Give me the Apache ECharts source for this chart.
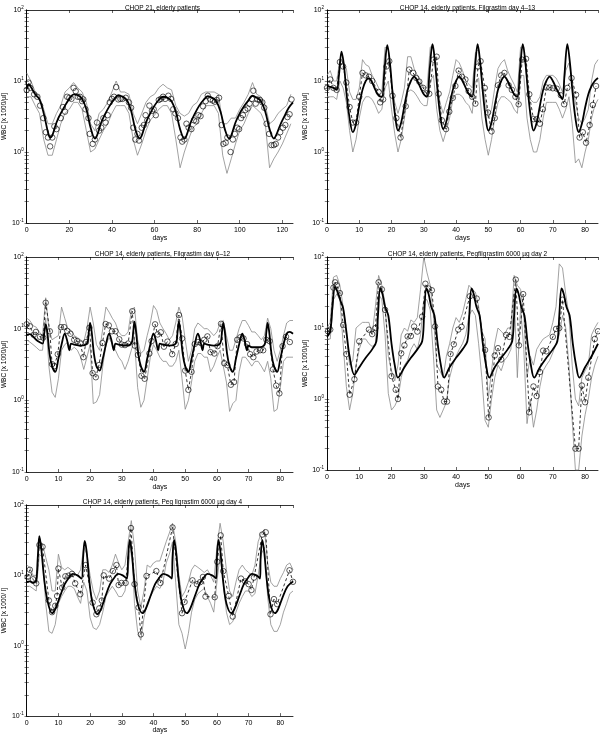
<!DOCTYPE html>
<html><head><meta charset="utf-8">
<script src="https://cdn.jsdelivr.net/npm/echarts@6/dist/echarts.min.js"></script>
<style>html,body{margin:0;padding:0;background:#fff}#c{width:600px;height:735px}</style>
</head><body><div id="c"></div>
<script>
// ---------------- Panel titles / labels ----------------
const panelTitles = [
  'CHOP 21, elderly patients',
  'CHOP 14, elderly patients, Filgrastim day 4\u201313',
  'CHOP 14, elderly patients, Filgrastim day 6\u201312',
  'CHOP 14, elderly patients, Pegfilgrastim 6000 \u00b5g day 2',
  'CHOP 14, elderly patients, Peg ligrastim 6000 \u00b5g day 4'
];
const yNames = ['WBC [x 1000/\u00b5l]','WBC [x 1000/\u00b5l]','WBC [x 1000/\u00b5l]','WBC [x 1000/\u00b5l]','WBC [x 1000/ l]'];
const xName = 'days';
const xMaxes = [125, 84, 84, 84, 84];
const xIntervals = [20, 10, 10, 10, 10];
const yMajorTicks = [0.1, 1, 10, 100];
const yMinorTicks = [0.2,0.3,0.4,0.5,0.6,0.7,0.8,0.9,2,3,4,5,6,7,8,9,20,30,40,50,60,70,80,90];

// shared day grids for quartile curves
const qDays1 = [0,2,4,6,8,10,12,14,16,18,20,22,24,26,28,30,32,34,36,38,40,42,44,46,48,50,52,54,56,58,60,62,64,66,68,70,72,74,76,78,80,82,84,86,88,90,92,94,96,98,100,102,104,106,108,110,112,114,116,118,120,122,124];
const qDays84 = [0,1,2,3,4,5,6,7,8,9,10,11,12,13,14,15,16,17,18,19,20,21,22,23,24,25,26,27,28,29,30,31,32,33,34,35,36,37,38,39,40,41,42,43,44,45,46,47,48,49,50,51,52,53,54,55,56,57,58,59,60,61,62,63,64,65,66,67,68,69,70,71,72,73,74,75,76,77,78,79,80,81,82,83,84];

// ---------------- Panel 1: CHOP 21 ----------------
const p1ModelDays = [0,1,2,4,6,8,10,11,12,14,16,18,20,22,24,26,28,30,32,33,35,37,39,41,43,45,47,49,51,53,54,56,58,60,62,64,66,68,70,72,74,75,77,79,81,83,85,87,89,91,93,95,96,98,100,102,104,106,108,110,112,114,116,117,119,121,123,125];
const p1Model = [7.8,9,8.2,6.5,5.5,3.5,1.9,1.6,1.7,2.6,3.5,4.5,5.6,6.5,6.3,5.6,4,2.2,1.55,1.7,2.6,3.5,4.5,5.5,6.3,6.0,5.4,3.8,2.1,1.55,1.7,2.6,3.5,4.5,5.4,6.0,5.8,5.2,3.7,2.1,1.55,1.7,2.6,3.5,4.5,5.4,6.1,5.8,5.2,3.7,2.1,1.55,1.7,2.6,3.5,4.4,5.3,6.2,5.8,5.2,3.7,2.1,1.55,1.7,2.4,3.2,4.2,5.0];
const p1ObsDays = [0,0.8,1.7,3.5,5,6.3,7.8,9,10,11,12,13,14,16,17,18,19,20,21,22,23,24,25,26,26.6,27.6,29,29.6,31,32,33,34,35,36,37,38,39,40,41,42,43,44,45,46.5,48,49,50,51,52,52.7,54,55,55.8,56.6,57.6,58.8,59.6,60.6,62,63,64,65,66.5,67.7,68.8,69.8,71,72.2,73,74,75,76,77.3,78.5,79.6,80.6,81.6,82.8,84,85,86.2,87.4,88.3,89.2,90.3,91.5,92.3,93.4,94.2,95.7,96.8,97.7,98.8,99.7,100.6,101.5,102.6,103.7,104.6,105.7,106.4,107.5,108.3,109.5,110.6,111.5,112.6,113.8,114.9,116,116.9,118,119,120.3,121.4,122.4,123.4,124.3];
const p1Obs = [7.5,9.5,8,6.5,6,4.5,3,1.9,1.6,1.2,1.6,2.3,2.1,3,4.3,3.7,6,5.8,5.6,8,7.2,6,6,5.2,5.5,4,3,1.8,1.3,1.5,2.6,2,2.2,3,2.6,3.3,5,5.6,6,8.2,5.5,5.6,5.6,5.8,5,4.2,2.2,1.5,1.8,1.45,2.2,2.4,3.3,2.8,4.5,3.8,4,3.3,5.4,5.6,6,5.6,6.2,5.6,4,3.5,3.0,1.6,1.4,1.5,2.5,2.2,2.1,2.8,2.7,3.3,3.2,4.4,5.2,6.2,5.5,5.3,5.1,5.4,5.8,2.4,1.3,1.35,1.6,1.0,1.5,1.8,2.2,2.1,3,3.3,3.9,4.1,4.8,5.6,7.3,4.8,5.5,5.4,5,4.2,2.5,1.8,1.25,1.25,1.3,1.6,1.9,2.2,2.4,3.1,3.4,5.5];
const p1Q3 = [13,10,7,6,4,2.5,2.5,3.5,4.5,7,8,9.5,8,7,5,2.5,2.0,3.5,4,5,7,10,7,7,6.5,3.5,2.5,3.5,5,6,6.5,8,9,8,7.5,4.5,3.5,3.2,3.5,4.5,5,6.5,7,7,7,6.5,2.5,2.5,3,3,4,5,6.5,9.5,6.5,6,4.5,2.5,2.8,3.5,4,4.5,6.5];
const p1Q1 = [6,6,4.5,3.5,1.5,0.9,0.9,1.5,2.5,3.5,4,5,5,4,2,1.0,1.1,1.5,2,2.5,3.5,4.5,4.5,4.5,3.5,1.5,0.9,1.3,2,2.8,3.3,4,4.5,4.5,3.5,1.5,0.6,1.0,1.5,2.2,2.5,3.5,4.5,4.5,4.5,3.5,0.9,0.5,0.8,1.3,2.0,2.5,3.5,4.5,4,3.5,2.5,0.6,0.8,1.0,1.3,1.8,2.5];

// ---------------- Panel 2: Filgrastim day 4-13 ----------------
const p2ModelDays = [0,1,2,3,3.7,4.5,5.3,6,7,8,9,10,11,12,13,14,15,16,17,17.8,18.7,19.5,20.3,21.2,22,23,24,25,26,27,28,29,30,31,31.8,32.7,33.5,34.3,35.2,36,37,38,39,40,41,42,43,44,45,45.8,46.7,47.5,48.3,49.2,50,51,52,53,54,55,56,57,58,59,59.8,60.7,61.5,62.3,63.2,64,65,66,67,68,69,70,71,72,73,73.6,74.5,75.3,76.1,77,78,79,80,81,82,83,84];
const p2Model = [8.5,8.3,8.0,7.5,12,26,16,7,3,1.9,2.5,4.5,7.5,10,11,9.5,7.5,6.2,6,14,32,18,7,3,2.0,2.6,4.5,7.5,10,11.5,10,8,6.5,6,14,33,18,7,3,2.1,2.7,4.6,7.5,10,11.5,10,8,6.5,6,14,33,18,7,3,2.0,2.6,4.5,7.5,10,11.5,10,8,6.5,6,14,33,18,7,3,2.0,2.6,4.5,7.5,10,11.5,10,8,6.5,5.5,12,33,18,7,3,1.9,2.5,4.2,6.5,8.5,10,11];
const p2ObsDays = [0,1,2,3,4,5,6,7,8,9,10,11,12,13,14,16,16.5,17.4,18.4,19.3,20.3,21.5,22.8,24.4,25.5,26.7,27.7,28.6,29.8,30.8,31.7,33,34,34.6,35.6,36.9,37.9,39,39.8,40.8,41.8,42.9,43.9,45,46,46.8,47.6,48.9,49.9,51,52,53,54,55,56.3,57.3,58.4,59.4,60.5,61.7,62.7,64,65,66,66.9,68,69,70,71.2,72.5,73.5,74.5,75.8,77.2,78.3,79.3,80.3,81.4,82.4,83.4];
const p2Obs = [8,10.5,8,7.5,18.5,16,9.5,4.3,2.6,2.6,6,13,12,11.5,10,7,5,5.5,16,19,6.2,3,1.6,4.4,14.5,13,11,9.8,8,6.7,6.6,20,22,6.6,2.8,2.1,3.7,5.8,8.5,14,11.5,10.5,7.2,6,4.8,16,19,8,3.6,1.95,3,8.7,12,13,8.7,7.5,6,4.7,20,20.5,6.5,2.9,2.9,2.5,4,8.1,8.1,7.9,7.8,6.3,4.7,8,11,6.4,1.6,1.9,1.35,2.4,4.6,8.5];
const p2Q3 = [12,14,10,10,20,18,15,7,5.5,5.5,8,20,17,16,12,10,8,7,30,28,9,5,3.5,5,8,22,22,15,12,10,8,8,30,32,10,5,3.5,5,7,12,20,18,14,10,9,8,25,28,10,5.5,3,4,8,15,18,20,14,11,9,7,30,30,10,5.5,5,5,6,10,12,12,12,11,9,7,14,18,10,5,3,2.5,3,4,10,17,20];
const p2Q1 = [6,6,6,5.5,10,8,5,2,1.0,1.5,3,5,6,6,5.5,4.5,3.5,4,8,10,4,1.8,1.0,1.5,3,7,7.5,7,6,5,4.5,4.5,10,12,4,2,1.4,2,3,5.5,6.5,6.5,6,5,4.5,3.5,10,11,3,1.5,0.9,1.5,3,5,6,6,5.5,5,4,3.5,12,12,3,1.5,1.0,1.0,1.5,3,5,5,5,5,4,3,4,6,2.5,0.7,0.8,0.6,1.0,1.5,3,4.5,5.5];

// ---------------- Panel 3: Filgrastim day 6-12 ----------------
const p3ModelDays = [0,1,2,3,4,5,5.6,6,6.5,7.2,8,9,10,11,12,12.7,13.5,14,15,17,19,19.6,20,20.5,21.2,22,23,24,25,26,26.7,27.5,28,29,31,33,33.6,34,34.5,35.2,36,37,38,39,40,40.7,41.5,42,43,45,47,47.6,48,48.5,49.2,50,51,52,53,54,54.7,55.5,56,57,59,61,61.6,62,62.5,63.2,64,65,66,67,68,68.7,69.5,70,71,73,75,75.6,76,76.5,77.2,78,79,80,81,82,83,84];
const p3Model = [8.2,8.4,7.8,7,6.5,6.2,9,11.5,9,4.5,3,2.5,3.8,6,8.5,7,5,6.2,6,5.8,6.2,9,12,9,4.5,3,2.6,3.8,6,8.5,7,5,6.2,6,5.8,6.2,9,12.5,9,4.5,3,2.5,3.8,6,8.5,7,5,6.2,6,5.8,6.2,9,12.5,9,4.5,3,2.5,3.8,6,8.5,7,5,6.2,6,5.8,6.2,9,12,9,4.5,3,2.5,3.8,6,8.5,7,5,5.8,5.5,5.5,6,9,12,9,4.5,3,2.5,3.8,6,8.5,9,8.5];
const p3ObsDays = [0,1,2.2,2.9,4.2,5.2,6,7.3,8,8.7,9.8,10.8,11.8,12.8,13.8,15,15.9,16.9,17.9,18.7,19.8,20.8,21.8,22.8,23.9,24.9,25.9,26.9,28,29.2,30,31,32,33.3,34.1,35.1,36.2,37.2,38.7,39.4,40.5,41.3,42.3,43.3,44.4,45.9,47,48,49,50,51,52,53,54,55,56,57,58,59.2,60.2,61.3,62.3,63.3,64.4,65.4,66.4,67.4,68.4,69.5,70.5,71.5,72.5,73.6,74.6,75.6,76.6,77.7,78.7,79.7,80.7,81.8,83];
const p3Obs = [11.5,10.8,8.2,9,7.7,7.5,23,9.2,3.2,3,4.4,10.5,10.5,9.3,8.5,7,6.7,6.2,4,6.5,10.3,2.4,2.1,3.1,6.3,11.6,11.1,9.2,9.2,7.1,6,5.9,6.2,17.5,5.8,4.3,2.2,2.0,4.5,6.7,11.5,8.3,8.9,5.6,6.6,4.4,6.1,15.5,7.3,2.6,1.4,2.5,6.1,6.5,6.3,7,7.8,4.7,4.5,5.7,11.7,3.3,3.1,1.65,1.8,7,7.6,7.3,6.1,4.4,4,4.8,5.0,5.0,7,6.7,2.7,1.6,1.25,5.7,7.7,6.5];
const p3Q3 = [14,13,11,10.5,9,8,27,10,7,7.5,8,20,14,10,9.5,8,7.5,7,6.5,10,20,12,6,5,10,20,17,14,12,9,8,8,9,18,20,7,4.5,5,8,12,21,18,12,10,8.5,7,8,12,20,15,7,3.5,5,10,12,11,10,10,9,8,9,12,13,8,5,5,7,10,13,13,11,9,9,8,7,8,14,10,5,3.5,5,8,12,13,13];
const p3Q1 = [7,6.5,6,5.5,5,5,14,3,1.3,1.1,2,5,6,6.5,5,5.5,5,4,2.7,4,6,0.9,0.95,1.2,3,6,7.5,6,5,4,3.5,2.7,3.5,5,7,1.5,0.8,1.0,2,4,6,5,4,3.5,3.5,3,3,3.5,5,2,0.75,1.0,1.8,3.5,4.5,4.5,4,4,2.5,3,4,5,3,1.8,0.7,0.9,1.0,2.5,4,4,3.5,3,3.5,3.5,3,2.5,3.5,2,0.7,0.75,1.5,3.5,4,4,4];

// ---------------- Panel 4: Pegfilgrastim day 2 ----------------
const p4ModelDays = [0,1,1.7,2.5,3.3,4.2,5,6,7,8.5,10,12,14,15.3,15.8,16.5,17.2,18,19,20,21,22,24,26,28,29.5,30.1,30.8,31.5,32.3,33.3,34.3,35.3,36.3,38,40,42,43.5,44.1,44.8,45.5,46.3,47.3,48.3,49.3,50.3,52,54,56,57.4,58,58.7,59.4,60.2,61.2,62.2,63.2,64.2,66,68,70,71.4,72,72.7,73.4,74.2,75.2,76.2,77.2,78.2,80,82,84];
const p4Model = [7.5,9,20,38,32,24,19,9,4,2.2,2.8,3.8,5,6.5,15,36,30,20,15,6,3,2,2.8,3.8,5,6.5,15,36,30,20,15,6,3,2,2.8,3.8,5,6.5,15,36,30,20,15,6,3,2,2.8,3.8,5,6.5,15,36,30,20,15,6,3,2,2.8,3.8,5,6.5,15,36,30,20,15,6,3,2,2.8,4,6];
const p4ObsDays = [0.3,1,2,2.5,3,4,5,6,7,8.5,10,13,14,15,16,17,18,20,21.3,22,23,24,25,26,27,28,29.5,30.5,31.5,32.5,33.5,34.4,35.4,36.3,37.2,38.3,39.3,40.7,41.7,44.3,46.4,49,50.1,52,53,54,55.5,56.5,58.5,59.5,60.8,62.7,64,65,66,67,68,70,71,72,73,77,78,79,80,81,83,84];
const p4Obs = [9,9.5,37,44,40,31,11,4.3,1.15,1.9,6.5,9.5,8.2,10,44,35,18,2.1,1.35,1.0,4.4,5.7,7.6,7.7,10.5,8.9,14.5,42,36,34,10.5,1.5,1.35,0.92,0.92,4.3,5.9,9.5,10.4,28,26,4.9,0.55,4.1,5.2,3.6,8,7.5,48,5.7,30,0.65,1.5,1.1,2.4,4.8,4.7,7.5,9.7,10,25,0.2,0.2,1.55,0.9,2,7,9];
const p4Q3 = [10,12,52,55,40,20,8,3,3.5,10,11,12,12,12,8,20,55,40,22,4,2.5,1.8,3,8,10,9,13,12,14,35,100,60,40,15,3,2.5,2,4,6,10,14,12,16,25,40,35,32,20,9,7,1.0,2.5,6,10,9,8,10,10,55,40,35,15,2,4,3,5,6,7,7.5,8,12,20,80,70,30,15,3,1.0,0.8,2,2.5,3,8,10,12];
const p4Q1 = [7,7,25,30,25,6,1.5,0.7,1.2,3,5,7,7,6,5.5,6,30,25,8,1.2,0.7,0.8,1.0,2,3,3.5,5,6,5,8,25,25,18,4,0.7,0.55,0.7,0.9,2,3,4,5,6,8,15,18,15,6,2,0.5,0.4,1.0,2,3,2.5,3.5,4,5,30,2,20,5,0.45,1.0,0.4,0.7,1.5,2.5,3,3.5,4.5,6,8,15,10,3,0.5,0.1,0.1,0.3,0.6,1.0,2,3,4];

// ---------------- Panel 5: Pegfilgrastim day 4 ----------------
const p5ModelDays = [0,1,2,3,3.5,4,4.6,5.5,6.5,8,9,10.5,12,13.5,14.5,16,17.3,17.8,18.3,18.9,19.8,20.8,22.3,23.3,24.8,26.3,27.8,28.8,30.3,31.6,32,32.5,33.1,34,35,36.5,37.5,39,40.5,42,43,44.5,45.8,46,46.5,47.1,48,49,50.5,51.5,53,54.5,56,57,58.5,59.8,60,60.5,61.1,62,63,64.5,65.5,67,68.5,70,71,72.5,73.6,73.8,74.3,74.9,75.8,76.8,78.3,79.3,80.8,82.3,84];
const p5Model = [8,8.2,7.8,8.5,18,36,24,9,4.5,2.9,3.3,5,7.5,9.5,10.5,10,9,18,31,22,8,4,2.8,3.2,5,7.5,9.5,10.5,10,9,18,32,22,8,4,2.9,3.3,5,7.5,9.5,10.5,10,9,18,32,22,8,4,2.9,3.3,5,7.5,9.5,10.5,10,9,18,32,22,8,4,2.9,3.3,5,7.5,9.5,10.5,10,9,18,32,22,8,4,2.9,3.3,5,7,8.2];
const p5ObsDays = [0.3,1,2,3,4,5,7,8,9,9.6,10,11.2,12.2,13.2,14.3,15.3,16.9,18.6,20.8,22,22.9,23.7,24.3,26,27.2,28.3,29,29.9,31.2,32.9,34,35.3,36,37.8,40.9,42.2,46,49,49.8,52.3,53.7,54.7,55.6,56.4,59.3,60.1,61.2,62,63.7,65,67.6,68.9,70,70.9,71.7,74.3,75.4,76.9,78,79,82.9,84];
const p5Obs = [9.5,12,8.8,7.7,27,25.5,4.4,3,3.7,5.1,12.5,6.7,9.7,9.9,10.5,7.7,5.4,14,4.1,2.8,3.4,4.4,10,9,11.5,14,7.3,7.8,7.8,47,7.5,3.5,1.45,9.8,11.5,7.8,48,2.9,4.2,8.5,7.5,8,9.5,5,4.9,15.6,37,11.5,5.1,2.6,9,8.2,7.5,6.2,9.3,38,41,2.8,4.6,3.9,11.8,8.1];
const p5Q3 = [14,13,10,10,30,28,18,12,6,6,20,13,12,13,12,11,10,12,25,20,10,6,4.5,6,12,12,11,14,20,15,12,14,30,60,25,6,3.5,6,14,13,15,16,16,22,30,40,55,30,10,5,6,8,12,14,13,12,11,12,10,8,25,55,30,12,6,5,8,12,14,12,11,10,14,30,40,45,15,8,7,7,9,11,14,15,12];
const p5Q1 = [7,7,6.5,6,20,18,4,1.6,1.5,2,4,5,6,7,7,6.5,5,4,8,6,2.5,1.8,1.7,2,3,5,6,7,6,5,5,6,12,30,4,1.6,1.2,2.5,4,5,6,7,6.5,8,15,20,30,8,2,1.5,0.9,1.5,3,4.5,5.5,6,6.5,5,4,3,8,20,8,3,2,2.2,3,4,5,6,6,5,5.5,10,20,25,5,2,1.6,1.6,2,3,4,5.5,6];

// ---------------- Build chart ----------------
const panels = [
  {modelDays:p1ModelDays, model:p1Model, obsDays:p1ObsDays, obs:p1Obs, qDays:qDays1, q3:p1Q3, q1:p1Q1, dashed:false},
  {modelDays:p2ModelDays, model:p2Model, obsDays:p2ObsDays, obs:p2Obs, qDays:qDays84, q3:p2Q3, q1:p2Q1, dashed:true},
  {modelDays:p3ModelDays, model:p3Model, obsDays:p3ObsDays, obs:p3Obs, qDays:qDays84, q3:p3Q3, q1:p3Q1, dashed:true},
  {modelDays:p4ModelDays, model:p4Model, obsDays:p4ObsDays, obs:p4Obs, qDays:qDays84, q3:p4Q3, q1:p4Q1, dashed:true},
  {modelDays:p5ModelDays, model:p5Model, obsDays:p5ObsDays, obs:p5Obs, qDays:qDays84, q3:p5Q3, q1:p5Q1, dashed:true}
];
const layout = [
  {left:22, top:10, width:271, height:213, titleTop:0, labelMargin:4, nameGap:11},
  {left:327, top:10, width:271, height:213, titleTop:0, labelMargin:4, nameGap:11},
  {left:22, top:257, width:271, height:215, titleTop:246, labelMargin:4, nameGap:11},
  {left:327, top:257, width:271, height:213, titleTop:246, labelMargin:4, nameGap:11},
  {left:22, top:505, width:271, height:213, titleTop:494, labelMargin:3, nameGap:9}
];
const FONT = 'Liberation Sans, Arial, sans-serif';
const zip = (xs, ys) => xs.map((x, i) => [x, ys[i]]);
const yTickVals = yMajorTicks.concat(yMinorTicks);
const option = {animation:false, backgroundColor:'#fff', title:[], grid:[], xAxis:[], yAxis:[], series:[]};

panels.forEach((p, i) => {
  const L = layout[i];
  option.grid.push({left:L.left, top:L.top, width:L.width, height:L.height});
  option.title.push({text:panelTitles[i], left:L.left + L.width/2, top:L.titleTop, textAlign:'center',
    textStyle:{fontSize:6.5, fontWeight:'normal', color:'#000', fontFamily:FONT}});
  const axLine = {show:true, lineStyle:{color:'#000', width:0.8}};
  const tick = {show:true, inside:true, length:3, lineStyle:{color:'#000', width:0.6}};
  const yTick = {show:true, inside:true, length:2.2, customValues:yTickVals, lineStyle:{color:'#000', width:0.5}};
  option.xAxis.push({type:'value', gridIndex:i, min:0, max:xMaxes[i], interval:xIntervals[i], position:'bottom',
    axisLine:axLine, axisTick:tick, splitLine:{show:false},
    axisLabel:{fontSize:7, color:'#000', margin:L.labelMargin, fontFamily:FONT, showMaxLabel:false},
    name:xName, nameLocation:'middle', nameGap:L.nameGap, nameTextStyle:{fontSize:7, color:'#000', fontFamily:FONT}});
  option.xAxis.push({type:'value', gridIndex:i, min:0, max:xMaxes[i], interval:xIntervals[i], position:'top',
    axisLine:axLine, axisTick:tick, splitLine:{show:false}, axisLabel:{show:false}});
  option.yAxis.push({type:'log', logBase:10, gridIndex:i, min:0.1, max:100, position:'left',
    axisLine:axLine, axisTick:yTick, splitLine:{show:false},
    axisLabel:{fontSize:7, color:'#000', margin:3, fontFamily:FONT,
      formatter: v => '10{s|' + Math.round(Math.log10(v)) + '}',
      rich:{s:{fontSize:4.5, verticalAlign:'bottom', padding:[0,0,5,0], fontFamily:FONT, color:'#000'}}},
    name:yNames[i], nameLocation:'middle', nameGap:16, nameRotate:90,
    nameTextStyle:{fontSize:6.5, color:'#000', fontFamily:FONT}});
  option.yAxis.push({type:'log', logBase:10, gridIndex:i, min:0.1, max:100, position:'right',
    axisLine:axLine, axisTick:yTick, splitLine:{show:false}, axisLabel:{show:false}});
  const xi = 2*i, yi = 2*i;
  const gray = {color:'#8a8a8a', width:0.8};
  option.series.push({type:'line', xAxisIndex:xi, yAxisIndex:yi, data:zip(p.qDays, p.q3), symbol:'none', lineStyle:gray, z:1});
  option.series.push({type:'line', xAxisIndex:xi, yAxisIndex:yi, data:zip(p.qDays, p.q1), symbol:'none', lineStyle:gray, z:1});
  if (p.dashed) {
    option.series.push({type:'line', xAxisIndex:xi, yAxisIndex:yi, data:zip(p.obsDays, p.obs), symbol:'none',
      lineStyle:{color:'#000', width:0.8, type:[3,2.5]}, z:2});
  }
  option.series.push({type:'line', xAxisIndex:xi, yAxisIndex:yi, data:zip(p.modelDays, p.model), symbol:'none', smooth:0.35,
    lineStyle:{color:'#000', width:1.8}, z:3});
  option.series.push({type:'scatter', xAxisIndex:xi, yAxisIndex:yi, data:zip(p.obsDays, p.obs), symbol:'circle', symbolSize:5.5,
    itemStyle:{color:'rgba(255,255,255,0)', borderColor:'#000', borderWidth:0.8}, z:4});
});

const chart = echarts.init(document.getElementById('c'), null, {renderer:'canvas'});
chart.setOption(option);
</script>
</body></html>
